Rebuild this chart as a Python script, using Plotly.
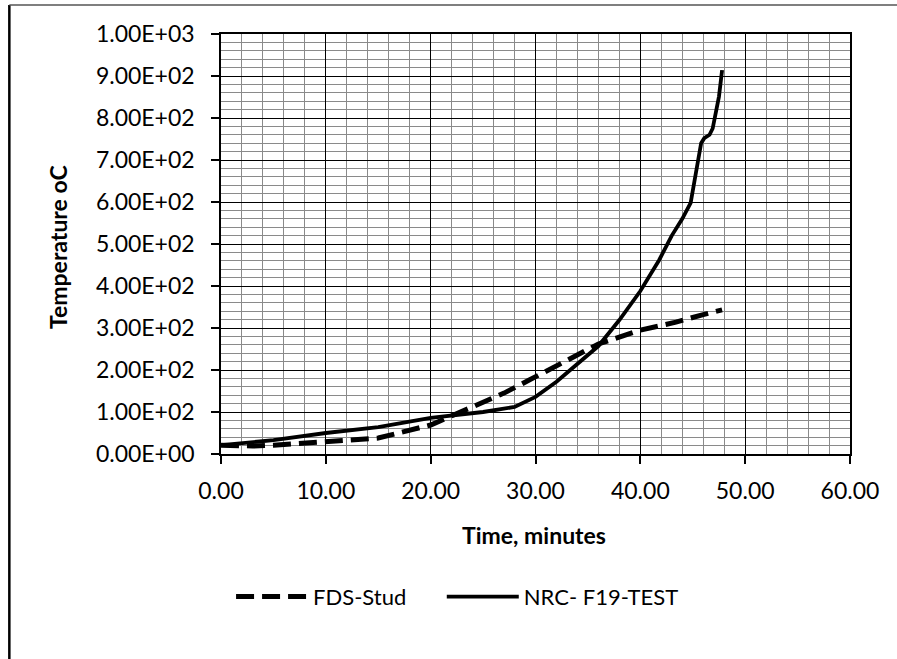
import plotly.graph_objects as go

# ---- data ----
fds_time = [0, 3, 5, 10, 15, 20, 22, 25, 27, 29.4, 32.6, 36, 40, 43.4, 46, 47.8]
fds_temp = [21, 19, 21, 29, 38, 69, 90, 121, 145, 176, 219, 262, 295, 314, 332, 343]

nrc_time = [0, 2, 5, 10, 15, 20, 25, 28, 30, 32, 34, 36, 38, 40, 41.8, 43, 44,
            44.8, 45.3, 45.8, 46.1, 46.6, 46.9, 47.2, 47.5, 47.8]
nrc_temp = [21, 25, 33, 50, 64, 86, 100, 112, 136, 172, 214, 257, 319, 388, 462, 520, 560,
            598, 669, 740, 752, 760, 775, 819, 851, 914]

x_tick_vals = [0, 10, 20, 30, 40, 50, 60]
x_tick_text = ["0.00", "10.00", "20.00", "30.00", "40.00", "50.00", "60.00"]
y_tick_vals = [0, 100, 200, 300, 400, 500, 600, 700, 800, 900, 1000]
y_tick_text = ["0.00E+00", "1.00E+02", "2.00E+02", "3.00E+02", "4.00E+02", "5.00E+02",
               "6.00E+02", "7.00E+02", "8.00E+02", "9.00E+02", "1.00E+03"]

FONT = "Lato, 'Open Sans', sans-serif"

fig = go.Figure()
fig.add_trace(go.Scatter(x=fds_time, y=fds_temp, mode="lines", name="FDS-Stud",
                         line=dict(color="black", width=5, dash="18px,8px"),
                         legend="legend"))
fig.add_trace(go.Scatter(x=nrc_time, y=nrc_temp, mode="lines", name="NRC- F19-TEST",
                         line=dict(color="black", width=3.8),
                         legend="legend2"))

axis_common = dict(
    showline=True, linecolor="black", linewidth=1.5, mirror=True,
    ticks="outside", ticklen=8, tickcolor="black", tickwidth=1.5,
    showgrid=True, gridcolor="black", gridwidth=1.3,
    zeroline=False,
    tickfont=dict(family=FONT, size=23, color="black"),
)

fig.update_xaxes(range=[0, 60], tickmode="array", tickvals=x_tick_vals, ticktext=x_tick_text,
                 minor=dict(tickmode="linear", tick0=0, dtick=2, showgrid=True,
                            gridcolor="#8a8a8a", gridwidth=1, ticks=""),
                 ticklabelstandoff=8, **axis_common)
fig.update_yaxes(range=[0, 1000], tickmode="array", tickvals=y_tick_vals, ticktext=y_tick_text,
                 minor=dict(tickmode="linear", tick0=0, dtick=20, showgrid=True,
                            gridcolor="#8a8a8a", gridwidth=1, ticks=""),
                 ticklabelstandoff=12, **axis_common)

fig.add_annotation(text="<b>Temperature oC</b>", xref="paper", yref="paper",
                   x=-0.259, y=0.493, textangle=-90, showarrow=False,
                   xanchor="center", yanchor="middle",
                   font=dict(family=FONT, size=23, color="black"))
fig.add_annotation(text="<b>Time, minutes</b>", xref="paper", yref="paper",
                   x=0.498, y=-0.193, showarrow=False,
                   xanchor="center", yanchor="middle",
                   font=dict(family=FONT, size=23, color="black"))

# outer frame (left and top edges visible)
fig.add_shape(type="line", xref="paper", yref="paper", x0=-0.3365, x1=-0.3365,
              y0=1.069, y1=-0.49, line=dict(color="black", width=2.5))
fig.add_shape(type="line", xref="paper", yref="paper", x0=-0.3365, x1=1.13,
              y0=1.069, y1=1.069, line=dict(color="#555", width=1.5))

legend_style = dict(orientation="h", y=-0.34, xanchor="left", yanchor="middle",
                    font=dict(family=FONT, size=22, color="black"),
                    itemwidth=72, bgcolor="rgba(0,0,0,0)")

fig.update_layout(
    width=897, height=659,
    margin=dict(l=221, r=47, t=34, b=205),
    paper_bgcolor="white", plot_bgcolor="white",
    showlegend=True,
    legend=dict(x=0.016, **legend_style),
    legend2=dict(x=0.351, **legend_style),
)

fig.write_html("out.html", config={"displayModeBar": False},
               post_script="document.body.style.margin='0';")
